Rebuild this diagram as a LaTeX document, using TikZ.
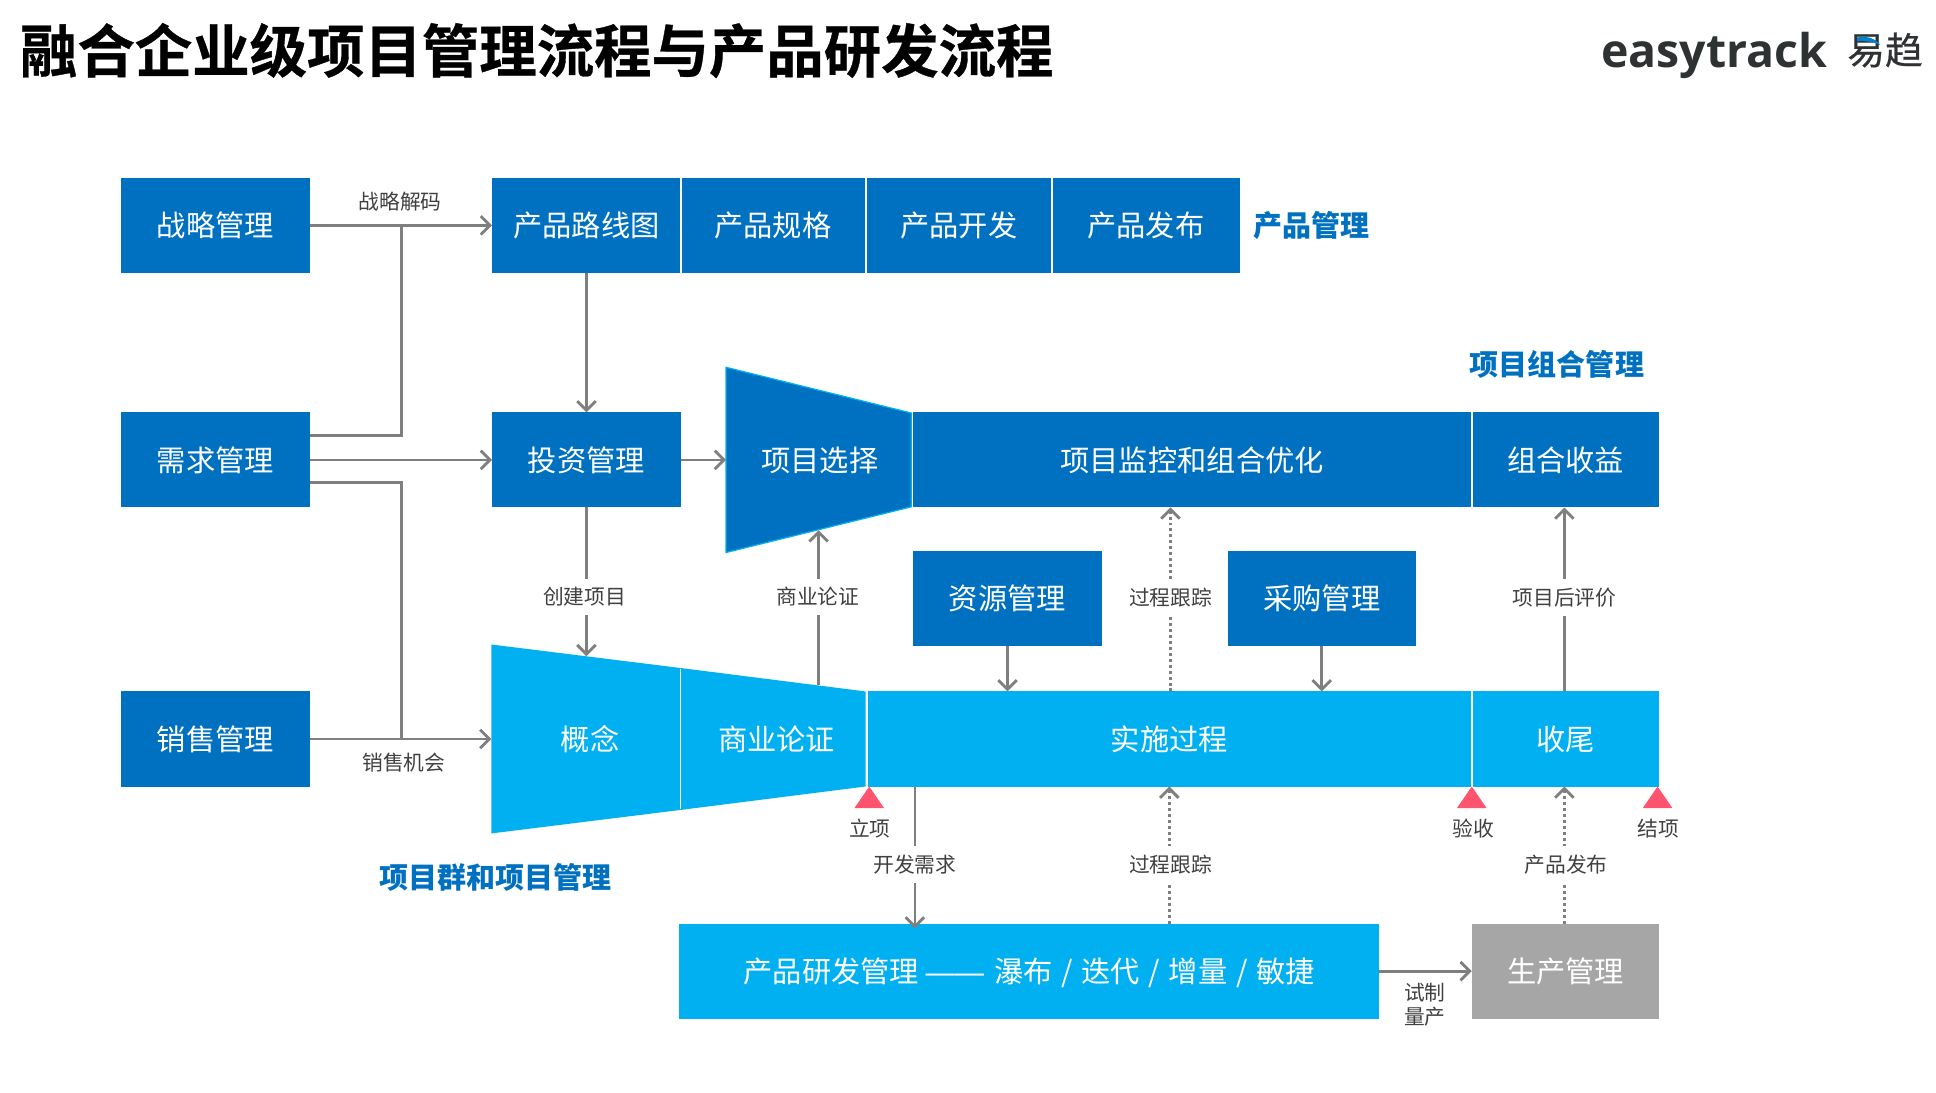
\documentclass[tikz,border=0pt]{standalone}
\usepackage{fontspec}
\usetikzlibrary{arrows.meta,calc}
\setmainfont{Noto Sans CJK SC}
\newfontfamily\titlefont[FakeBold=0.6]{Noto Sans CJK SC Bold}
\newfontfamily\logofont{Open Sans}
\newfontfamily\logocn[FakeBold=0.6]{Noto Sans CJK SC}
\newfontfamily\dashfont{Liberation Sans}
\definecolor{dkblue}{HTML}{0070C0}
\definecolor{ltblue}{HTML}{00B0F0}
\definecolor{grybox}{HTML}{A6A6A6}
\definecolor{conn}{HTML}{7F7F7F}
\definecolor{lbl}{HTML}{404040}
\definecolor{tri}{HTML}{FF5370}
\definecolor{logoc}{HTML}{2F3233}
\newcommand{\slashgap}{\hspace{7pt}/\hspace{7pt}}
\tikzset{
  x=1pt,y=-1pt,
  basebox/.style={inner sep=0pt,outer sep=0pt,text=white,font=\fontsize{23.7}{26}\selectfont,minimum height=77pt,anchor=center,text height=21.3pt,text depth=2.8pt},
  dkbox/.style={basebox,fill=dkblue,minimum width=#1},
  ltbox/.style={basebox,fill=ltblue,minimum width=#1},
  inshape/.style={inner sep=0pt,text=white,font=\fontsize{23.7}{26}\selectfont,text height=21.3pt,text depth=2.8pt},
  sep/.style={white,line width=1.3pt},
  flow/.style={draw=conn,line width=2.3pt,-{Straight Barb[length=7.5pt,width=15pt,line width=2.3pt]}},
  plain/.style={draw=conn,line width=2.3pt},
  dots/.style={dash pattern=on 2.4pt off 2.4pt},
  tag/.style={fill=white,inner xsep=2pt,inner ysep=7pt,text=lbl,font=\fontsize{16.8}{19}\selectfont},
  free/.style={inner sep=0pt,text=lbl,font=\fontsize{16.8}{19}\selectfont,align=center},
  head/.style={inner sep=0pt,text=dkblue,font=\fontsize{23.5}{26}\selectfont\bfseries},
  flag/.style={fill=tri,draw=none}
}
\begin{document}
\begin{tikzpicture}
\useasboundingbox (0,0) rectangle (1568,885);
% title + logo
\node[anchor=west,inner sep=0pt,font=\titlefont\fontsize{46.5}{50}\selectfont,text=black] (title) at (16,41) {融合企业级项目管理流程与产品研发流程};
\node[anchor=base west,inner sep=0pt,font=\logofont\bfseries\fontsize{37.6}{44}\selectfont,text=logoc] (logo) at (1296.5,55) {easytrack};
\node[anchor=base west,inner sep=0pt,font=\logocn\fontsize{30.5}{32}\selectfont,text=logoc] (logocnnode) at (1496,52) {易趋};
\fill[dkblue!70!ltblue] (1504,30.5) .. controls (1511,28.5) and (1519,31) .. (1523,36.5) .. controls (1517,33.5) and (1510,33) .. (1504,33.5) -- cycle;
% boxes
\node[dkbox=153pt] (zl) at (174.5,182.5) {战略管理};
\node[dkbox=153pt] (xq) at (174.5,372.5) {需求管理};
\node[dkbox=153pt] (xs) at (174.5,598.5) {销售管理};
\node[dkbox=153pt] (lx) at (475,182.5) {产品路线图};
\node[dkbox=151pt] (gg) at (626,182.5) {产品规格};
\node[dkbox=151pt] (kf) at (776.5,182.5) {产品开发};
\node[dkbox=152pt] (fb) at (928,182.5) {产品发布};
\draw[sep] (lx.north east) -- (lx.south east);
\draw[sep] (gg.north east) -- (gg.south east);
\draw[sep] (kf.north east) -- (kf.south east);
\node[head,anchor=west] (cpgl) at (1015,183) {产品管理};
\node[dkbox=153pt] (tz) at (475,372.5) {投资管理};
\draw[ltblue,line width=1pt,fill=dkblue] (588,297.5) -- (738,334.5) -- (738,410.5) -- (588,447.5) -- cycle;
\node[inshape] (xz) at (664,372.5) {项目选择};
\node[dkbox=453pt] (jk) at (965.5,372.5) {项目监控和组合优化};
\node[dkbox=152pt] (sy) at (1268,372.5) {组合收益};
\draw[sep] (jk.north west) -- (jk.south west);
\draw[sep] (jk.north east) -- (jk.south east);
\node[head] (zhgl) at (1261,295) {项目组合管理};
\node[dkbox=153pt] (zy) at (816,484.5) {资源管理};
\node[dkbox=152pt] (cg) at (1070.5,484.5) {采购管理};
% funnel
\fill[ltblue] (398,522) -- (551,541) -- (701,560) -- (701,637) -- (551,656) -- (398,675) -- cycle;
\draw[sep] (551,541.5) -- (551,655.5);
\node[inshape] (gn) at (478,598.5) {概念};
\node[inshape] (sl) at (629,598.5) {商业论证};
\node[ltbox=490pt] (ss) at (947,598.5) {实施过程};
\node[ltbox=152pt] (sw) at (1268,598.5) {收尾};
\draw[sep] (ss.north west) -- (ss.south west);
\draw[sep] (ss.north east) -- (ss.south east);
\node[head] (xmgl) at (401.5,711) {项目群和项目管理};
\node[ltbox=567pt] (yf) at (833.5,786.5) {产品研发管理 {\dashfont ——}\hspace{3pt} 瀑布\slashgap{}迭代\slashgap{}增量\slashgap{}敏捷};
\node[basebox,fill=grybox,minimum width=152pt] (sc) at (1268,786.5) {生产管理};
% milestones
\fill[flag] (704,637) -- (716,654.5) -- (692,654.5) -- cycle;
\fill[flag] (1192,637) -- (1204,654.5) -- (1180,654.5) -- cycle;
\fill[flag] (1342.5,637) -- (1354.5,654.5) -- (1330.5,654.5) -- cycle;
\node[free] (lixiang) at (704.5,671) {立项};
\node[free] (yanshou) at (1193.5,671) {验收};
\node[free] (jiexiang) at (1343,671) {结项};
% connector ends
\coordinate (xqa) at (xq.east |- 0,352.5);
\coordinate (xqb) at (xq.east |- 0,391);
\coordinate (j1) at (325,183);
\coordinate (j2) at (325,598.5);
\coordinate (gntop) at (475,531.5);
\coordinate (sltop) at (663,555);
\coordinate (xzbot) at (663,429.5);
\coordinate (ss948) at (948,560);
\coordinate (jk948) at (948,411);
\coordinate (ss1267) at (1267,560);
\coordinate (sy1267) at (1267,411);
\coordinate (ss741) at (741,637);
\coordinate (yf741) at (741,752);
\coordinate (yf947) at (947,748);
\coordinate (ss947) at (947,637);
\coordinate (sc1267) at (1267,748);
\coordinate (sw1267) at (1267,637);
\coordinate (gnw) at (398,598.5);
\coordinate (xzw) at (588,372.5);
% connectors
\draw[flow] (zl.east) -- (lx.west);
\draw[plain] (xqa) -| (j1);
\draw[flow] (xq.east) -- (tz.west);
\draw[plain] (xqb) -| (j2);
\draw[flow] (xs.east) -- (gnw);
\draw[flow] (lx.south) -- (tz.north);
\draw[flow] (tz.east) -- (xzw);
\draw[flow] (tz.south) -- node[tag,pos=.6,xshift=-1.5pt] (l1) {创建项目} (gntop);
\draw[flow] (sltop) -- node[tag,pos=.57,xshift=-.5pt] (l2) {商业论证} (xzbot);
\draw[flow] (zy.south) -- (zy.south |- ss.north);
\draw[flow] (cg.south) -- (cg.south |- ss.north);
\draw[flow,dots] (ss948) -- node[tag,pos=.51] (l3) {过程跟踪} (jk948);
\draw[flow] (ss1267) -- node[tag,pos=.51] (l4) {项目后评价} (sy1267);
\draw[flow] (ss741) -- node[tag,pos=.55] (l5) {开发需求} (yf741);
\draw[flow,dots] (yf947) -- node[tag,pos=.43,xshift=1pt] (l6) {过程跟踪} (ss947);
\draw[flow,dots] (sc1267) -- node[tag,pos=.43,xshift=1.5pt] (l7) {产品发布} (sw1267);
\draw[flow] (yf.east) -- (sc.west);
\node[free] (l8) at (324,163) {战略解码};
\node[free] (l9) at (327,618) {销售机会};
\node[free,font=\fontsize{16.8}{19.5}\selectfont] (l10) at (1154,814) {试制\\量产};
\end{tikzpicture}
\end{document}
